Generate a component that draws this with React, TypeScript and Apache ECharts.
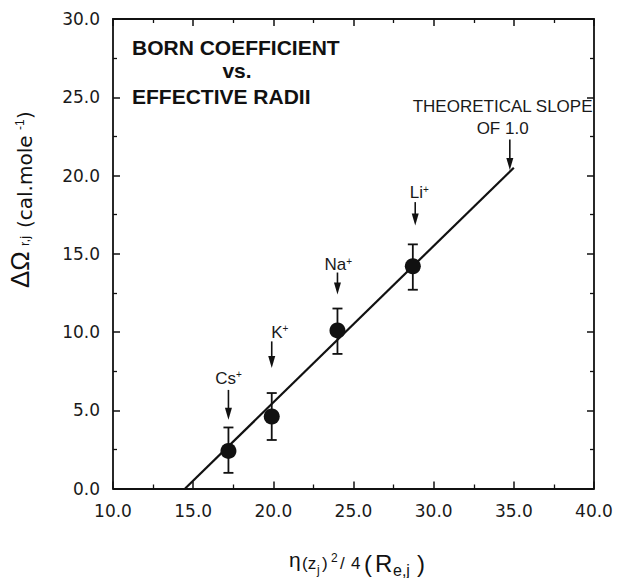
import React, { useEffect, useRef } from "react";
import * as echarts from "echarts";

// ---- data ----
const xTicks = [10, 15, 20, 25, 30, 35, 40];
const yTicks = [0, 5, 10, 15, 20, 25, 30];

const ions = ["Cs", "K", "Na", "Li"];
const ionX = [17.2, 19.9, 24.0, 28.7];
const ionY = [2.4, 4.6, 10.1, 14.2];
const errLow = [1.0, 3.1, 8.6, 12.7];
const errHigh = [3.9, 6.1, 11.5, 15.6];

// theoretical slope line (slope 1.0)
const fitX = [14.5, 35.0];
const fitY = [0.0, 20.5];

// annotations: labels with arrows
const annoText = ["Cs{s|+}", "K{s|+}", "Na{s|+}", "Li{s|+}", "THEORETICAL SLOPE\nOF 1.0"];
const annoLabelX = [17.2, 20.4, 24.05, 29.1, 34.3];
const annoLabelY = [7.05, 10.0, 14.3, 18.9, 23.7];
const arrowX = [17.2, 19.9, 24.0, 28.85, 34.75];
const arrowTop = [6.3, 9.4, 13.8, 18.3, 22.3];
const arrowTip = [4.4, 7.7, 12.4, 16.8, 20.35];

const titleLines = ["BORN COEFFICIENT", "vs.", "EFFECTIVE RADII"];

const INK = "#111";
const SANS = "Liberation Sans";
const TICKFONT = "DejaVu Sans";

// text placed by its alphabetic baseline (converted to a middle anchor)
const bt = (text: string, x: number, baseline: number, fontSize: number, fontFamily = SANS, extra: any = {}) => ({
  type: "text",
  x,
  y: baseline - 0.35 * fontSize,
  style: { text, fontFamily, fontSize, fill: INK, verticalAlign: "middle", ...extra },
});

export default function App() {
  const ref = useRef<HTMLDivElement>(null);

  useEffect(() => {
    if (!ref.current) return;
    const chart = echarts.init(ref.current, null, { renderer: "svg" });

    const axisCommon = (showLabel: boolean) => ({
      type: "value" as const,
      axisLine: { show: true, onZero: false, lineStyle: { color: INK, width: 1.8 } },
      axisTick: { show: true, inside: true, length: 7, lineStyle: { color: INK, width: 1.5 } },
      minorTick: { show: true, splitNumber: 2, length: 4, lineStyle: { color: INK, width: 1.3 } },
      splitLine: { show: false },
      axisLabel: {
        show: showLabel,
        color: "#1a1a1a",
        fontFamily: TICKFONT,
        fontSize: 17,
        formatter: (v: number) => v.toFixed(1),
      },
    });

    const errData = ionX.map((x, i) => [x, errLow[i], errHigh[i]]);
    const ptData = ionX.map((x, i) => [x, ionY[i]]);
    const fitData = fitX.map((x, i) => [x, fitY[i]]);
    const annoData = annoText.map((_, i) => [annoLabelX[i], annoLabelY[i], arrowX[i], arrowTop[i], arrowTip[i]]);

    const option: any = {
      animation: false,
      backgroundColor: "#fff",
      grid: { left: 113, right: 23, top: 19, bottom: 89.5, containLabel: false, outerBoundsMode: "none" },
      xAxis: [
        { ...axisCommon(true), min: xTicks[0], max: xTicks[xTicks.length - 1], interval: 5, position: "bottom",
          axisLabel: { ...axisCommon(true).axisLabel, margin: 14 } },
        { ...axisCommon(false), min: xTicks[0], max: xTicks[xTicks.length - 1], interval: 5, position: "top" },
      ],
      yAxis: [
        { ...axisCommon(true), min: yTicks[0], max: yTicks[yTicks.length - 1], interval: 5, position: "left",
          axisLabel: { ...axisCommon(true).axisLabel, margin: 13 } },
        { ...axisCommon(false), min: yTicks[0], max: yTicks[yTicks.length - 1], interval: 5, position: "right" },
      ],
      series: [
        {
          type: "line",
          data: fitData,
          showSymbol: false,
          symbol: "none",
          lineStyle: { color: INK, width: 2.2 },
          z: 2,
        },
        {
          type: "custom",
          data: errData,
          encode: { x: 0, y: [1, 2] },
          z: 3,
          renderItem: (params: any, api: any) => {
            const x = api.value(0);
            const lo = api.coord([x, api.value(1)]);
            const hi = api.coord([x, api.value(2)]);
            const st = { stroke: INK, lineWidth: 1.8 };
            const w = 5;
            return {
              type: "group",
              children: [
                { type: "line", shape: { x1: lo[0], y1: lo[1], x2: hi[0], y2: hi[1] }, style: st },
                { type: "line", shape: { x1: lo[0] - w, y1: lo[1], x2: lo[0] + w, y2: lo[1] }, style: st },
                { type: "line", shape: { x1: hi[0] - w, y1: hi[1], x2: hi[0] + w, y2: hi[1] }, style: st },
              ],
            };
          },
        },
        {
          type: "scatter",
          data: ptData,
          symbol: "circle",
          symbolSize: 16,
          itemStyle: { color: INK, opacity: 1 },
          z: 4,
        },
        {
          type: "custom",
          data: annoData,
          encode: { x: [0, 2], y: [1, 3, 4] },
          z: 5,
          renderItem: (params: any, api: any) => {
            const i = params.dataIndex;
            const lp = api.coord([api.value(0), api.value(1)]);
            const top = api.coord([api.value(2), api.value(3)]);
            const tip = api.coord([api.value(2), api.value(4)]);
            const headL = 12;
            const headW = 3.5;
            const multi = annoText[i].indexOf("\n") >= 0;
            return {
              type: "group",
              children: [
                {
                  type: "text",
                  x: lp[0],
                  y: lp[1],
                  style: {
                    text: annoText[i],
                    fill: "#1a1a1a",
                    fontFamily: SANS,
                    fontSize: 17,
                    lineHeight: multi ? 22 : undefined,
                    align: "center",
                    verticalAlign: "middle",
                    rich: {
                      s: { fontSize: 10, fontFamily: SANS, fill: "#1a1a1a", verticalAlign: "top" },
                    },
                  },
                },
                {
                  type: "line",
                  shape: { x1: top[0], y1: top[1], x2: tip[0], y2: tip[1] - headL + 1 },
                  style: { stroke: INK, lineWidth: 1.6 },
                },
                {
                  type: "polygon",
                  shape: {
                    points: [
                      [tip[0] - headW, tip[1] - headL],
                      [tip[0] + headW, tip[1] - headL],
                      [tip[0], tip[1]],
                    ],
                  },
                  style: { fill: INK },
                },
              ],
            };
          },
        },
      ],
      graphic: [
        bt(titleLines[0], 132, 55, 21, SANS, { fontWeight: "bold" }),
        bt(titleLines[1], 237, 78, 21, SANS, { fontWeight: "bold", align: "center" }),
        bt(titleLines[2], 132, 104, 21, SANS, { fontWeight: "bold" }),
        // x-axis title: η(zj)²/4(Re,j)
        {
          type: "group",
          children: [
            bt("η", 289, 567, 21),
            bt("(z", 302, 569, 17),
            bt("j", 317, 574, 12),
            bt(")", 322, 569, 17),
            bt("2", 331, 562, 12),
            bt("/", 340, 569, 17),
            bt("4", 351, 569, 17),
            bt("(", 364, 572, 24),
            bt("R", 375, 572, 24),
            bt("e,j", 393, 576, 16),
            bt(")", 417, 572, 24),
          ],
        },
        // y-axis title: ΔΩr,j (cal.mole-1), rotated
        {
          type: "group",
          x: 0,
          y: 288,
          rotation: Math.PI / 2,
          children: [
            bt("ΔΩ", 0, 29, 26),
            bt("r,j", 42, 29, 13),
            bt("(cal.mole", 60, 32, 20, TICKFONT),
            bt("-1", 158, 24, 12),
            bt(")", 169, 32, 20, TICKFONT),
          ],
        },
      ],
    };

    chart.setOption(option);
    return () => chart.dispose();
  }, []);

  return (
    <div
      ref={ref}
      style={{ position: "fixed", left: 0, top: 0, width: 617, height: 578, background: "#fff" }}
    />
  );
}
